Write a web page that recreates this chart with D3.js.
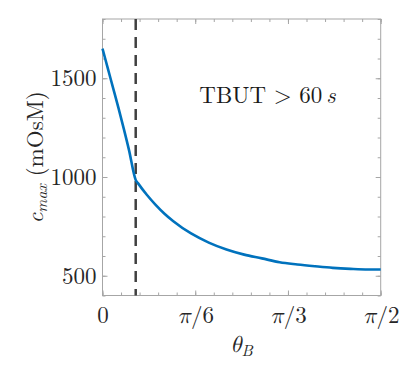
<!DOCTYPE html>
<html>
<head>
<meta charset="utf-8">
<script src="https://cdn.jsdelivr.net/npm/d3@7"></script>
<style>
  html, body { margin: 0; padding: 0; background: #fff; }
  svg { display: block; }
</style>
</head>
<body>
<svg id="chart" width="407" height="370"></svg>
<script>
// ---- data ----
const theta = [0, 0.03, 0.06, 0.09, 0.12, 0.15, 0.1875, 0.2, 0.25, 0.3, 0.35, 0.4, 0.5, 0.6, 0.7, 0.8, 0.9, 1.0, 1.1, 1.2, 1.3, 1.4, 1.5, 1.5708];
const cmax  = [1650, 1550, 1450, 1350, 1245, 1135, 985, 969, 910, 859, 814, 776, 714, 668, 633, 607, 588, 568, 557, 548, 540, 535, 532, 532];
const thetaCritical = 0.1875;
const xTickValues = [0, Math.PI / 6, Math.PI / 3, Math.PI / 2];
const xTickLabels = ["0", "π/6", "π/3", "π/2"];
const yTickValues = [500, 1000, 1500];

// ---- layout ----
const FONT = '"Latin Modern Roman", "Latin Modern Math", "Liberation Serif", serif';
const MATHFONT = '"Latin Modern Math", "Latin Modern Roman", "Liberation Serif", serif';
const svg = d3.select("#chart");
const L = 102.5, R = 380.7, T = 19, B = 295.5;
const x = d3.scaleLinear().domain([0, Math.PI / 2]).range([L, R]);
const y = d3.scaleLinear().domain([400, 1800]).range([B, T]);
const axisColor = "#a6a6a6";
const textColor = "#262626";
const fontSize = 23;

const xMinor = d3.range(0, 16).map(i => i * Math.PI / 30);
const yMinor = d3.range(400, 1801, 100);

function styleAxis(g) {
  g.select(".domain").remove();
  g.selectAll(".tick line").attr("stroke", axisColor).attr("stroke-width", 1);
}

// minor ticks (all four sides)
svg.append("g").attr("transform", `translate(0,${B})`)
  .call(d3.axisBottom(x).tickValues(xMinor).tickSize(-3).tickFormat(""))
  .call(styleAxis);
svg.append("g").attr("transform", `translate(0,${T})`)
  .call(d3.axisTop(x).tickValues(xMinor).tickSize(-3).tickFormat(""))
  .call(styleAxis);
svg.append("g").attr("transform", `translate(${L},0)`)
  .call(d3.axisLeft(y).tickValues(yMinor).tickSize(-3).tickFormat(""))
  .call(styleAxis);
svg.append("g").attr("transform", `translate(${R},0)`)
  .call(d3.axisRight(y).tickValues(yMinor).tickSize(-3).tickFormat(""))
  .call(styleAxis);

// major ticks with labels
const gx = svg.append("g").attr("transform", `translate(0,${B})`)
  .call(d3.axisBottom(x).tickValues(xTickValues).tickSize(-5).tickPadding(11)
        .tickFormat((d, i) => xTickLabels[i]))
  .call(styleAxis);
gx.selectAll(".tick text")
  .style("font-family", FONT).style("font-size", fontSize + "px").style("fill", textColor)
  .each(function(d, i) {
    if (i > 0) {
      const t = d3.select(this); t.text(null);
      const parts = xTickLabels[i].split("/");
      t.append("tspan").style("font-style", "italic").style("font-family", MATHFONT).text(parts[0]);
      t.append("tspan").text("/" + parts[1]);
    }
  });
svg.append("g").attr("transform", `translate(0,${T})`)
  .call(d3.axisTop(x).tickValues(xTickValues).tickSize(-5).tickFormat(""))
  .call(styleAxis);
const gy = svg.append("g").attr("transform", `translate(${L},0)`)
  .call(d3.axisLeft(y).tickValues(yTickValues).tickSize(-5).tickPadding(6).tickFormat(d3.format("d")))
  .call(styleAxis);
gy.selectAll(".tick text")
  .style("font-family", FONT).style("font-size", fontSize + "px").style("fill", textColor);
svg.append("g").attr("transform", `translate(${R},0)`)
  .call(d3.axisRight(y).tickValues(yTickValues).tickSize(-5).tickFormat(""))
  .call(styleAxis);

// box
svg.append("rect").attr("x", L).attr("y", T).attr("width", R - L).attr("height", B - T)
  .attr("fill", "none").attr("stroke", axisColor).attr("stroke-width", 1);

// dashed vertical line
svg.append("line")
  .attr("x1", x(thetaCritical)).attr("x2", x(thetaCritical))
  .attr("y1", y(1800)).attr("y2", y(400))
  .attr("stroke", "#404040").attr("stroke-width", 2.5)
  .attr("stroke-dasharray", "11,7");

// curve
const line = d3.line().x((d, i) => x(theta[i])).y(d => y(d)).curve(d3.curveMonotoneX);
svg.append("path").datum(cmax)
  .attr("d", line)
  .attr("fill", "none").attr("stroke", "#0072BD").attr("stroke-width", 2.6)
  .attr("stroke-linejoin", "round");

// annotation
const ann = svg.append("text")
  .attr("x", x(0.932)).attr("y", y(1376))
  .attr("text-anchor", "middle")
  .style("font-family", FONT).style("font-size", fontSize + "px").style("fill", "#1a1a1a");
ann.append("tspan").text("TBUT ");
ann.append("tspan").text("> 60");
ann.append("tspan").attr("dx", 4).style("font-style", "italic").text("s");

// x label
const xl = svg.append("text")
  .attr("x", (L + R) / 2).attr("y", 352)
  .attr("text-anchor", "middle")
  .style("font-family", FONT).style("font-size", fontSize + "px").style("fill", textColor);
xl.append("tspan").style("font-style", "italic").style("font-family", MATHFONT).text("θ");
xl.append("tspan").style("font-style", "italic").style("font-size", "16px").attr("dy", 4).text("B");

// y label
const yl = svg.append("text")
  .attr("transform", `translate(43,${(T + B) / 2}) rotate(-90)`)
  .attr("text-anchor", "middle")
  .style("font-family", FONT).style("font-size", fontSize + "px").style("fill", textColor);
yl.append("tspan").style("font-style", "italic").text("c");
yl.append("tspan").style("font-style", "italic").style("font-size", "16px").attr("dy", 4).text("max");
yl.append("tspan").attr("dy", -4).text(" (mOsM)");
</script>
</body>
</html>
